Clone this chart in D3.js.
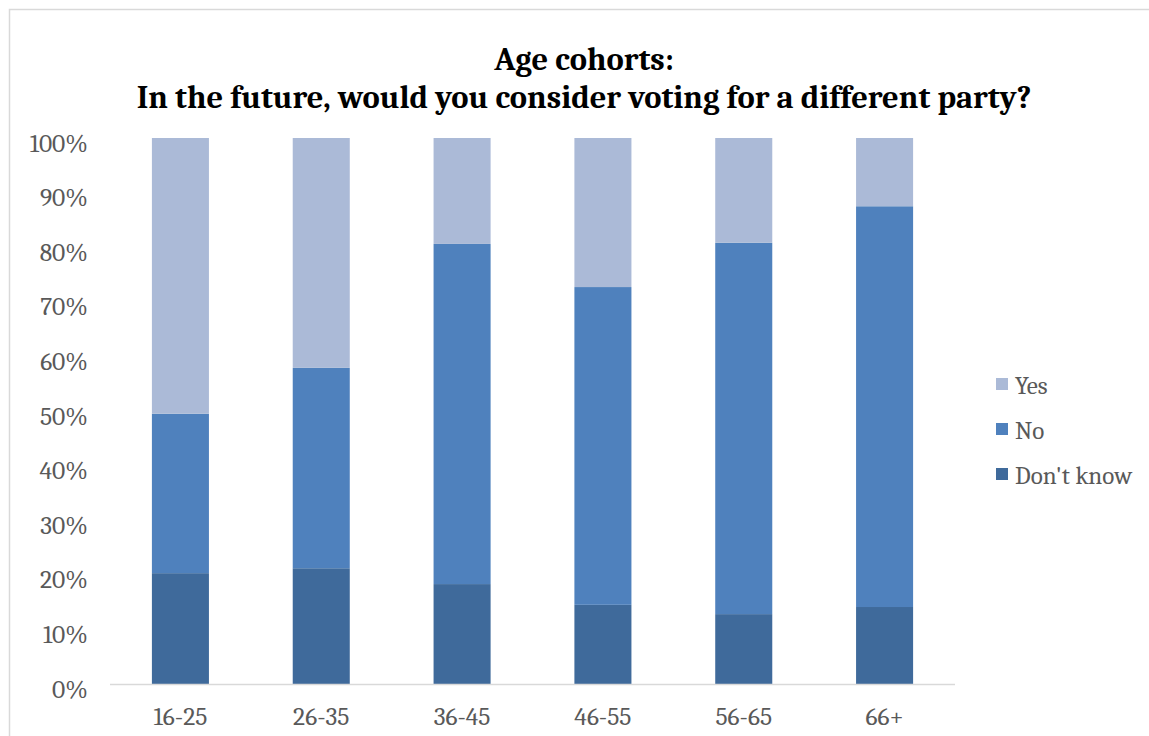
<!DOCTYPE html>
<html><head><meta charset="utf-8">
<script src="https://cdn.jsdelivr.net/npm/d3@7"></script>
<style>body{margin:0;background:#fff}svg{display:block}</style>
</head><body>
<svg id="c" width="1149" height="736"></svg>
<script>
const categories = ["16-25","26-35","36-45","46-55","56-65","66+"];
const dontKnow = [20.3, 21.2, 18.3, 14.5, 12.8, 14.1];
const no = [29.2, 36.7, 62.3, 58.2, 68.0, 73.4];
const yes = [50.5, 42.1, 19.4, 27.3, 19.2, 12.5];
const seriesNames = ["Don't know","No","Yes"];
const colors = {"Don't know":"#3F6A9B","No":"#4F81BD","Yes":"#ABBAD7"};
const yTicks = [0,10,20,30,40,50,60,70,80,90,100];
const titleLines = ["Age cohorts:","In the future, would you consider voting for a different party?"];

const svg = d3.select("#c");
const font = "Cambria, 'Liberation Serif', 'DejaVu Serif', serif";
svg.append("rect").attr("x",9.5).attr("y",9.5).attr("width",1200).attr("height",800)
  .attr("fill","none").attr("stroke","#d9d9d9").attr("stroke-width",1.5);

const L=110, R=955, T=138, B=684;
const x = d3.scaleBand().domain(categories).range([L,R]).paddingInner(0.595).paddingOuter(0.2975);
const y = d3.scaleLinear().domain([0,100]).range([B,T]);

const rows = categories.map((c,i)=>({cat:c,"Don't know":dontKnow[i],"No":no[i],"Yes":yes[i]}));
const stacked = d3.stack().keys(seriesNames)(rows);
svg.append("g").selectAll("g").data(stacked).join("g").attr("fill",d=>colors[d.key])
  .selectAll("rect").data(d=>d).join("rect")
  .attr("x",d=>x(d.data.cat)).attr("width",x.bandwidth())
  .attr("y",d=>y(d[1])).attr("height",d=>y(d[0])-y(d[1]));

svg.append("line").attr("x1",L).attr("x2",R).attr("y1",B+0.5).attr("y2",B+0.5)
  .attr("stroke","#d9d9d9").attr("stroke-width",1.5);

const yAxis = d3.axisLeft(y).tickValues(yTicks).tickFormat(d=>d+"%").tickSize(0).tickPadding(0);
const ga = svg.append("g").attr("transform","translate(88,5)").call(yAxis);
ga.select(".domain").remove();
ga.selectAll("text").attr("font-family",font).attr("font-size",25.5).attr("fill","#595959");

const xAxis = d3.axisBottom(x).tickSize(0).tickPadding(0);
const gx = svg.append("g").attr("transform","translate(0,707)").call(xAxis);
gx.select(".domain").remove();
gx.selectAll("text").attr("font-family",font).attr("font-size",25.5).attr("fill","#595959");

svg.selectAll(".title").data(titleLines).join("text").attr("class","title")
  .attr("x",584).attr("y",(d,i)=>70+i*38).attr("text-anchor","middle")
  .attr("font-family",font).attr("font-weight","bold").attr("font-size",32.5).attr("fill","#000")
  .text(d=>d);

const legendOrder = ["Yes","No","Don't know"];
const lg = svg.append("g").selectAll("g").data(legendOrder).join("g")
  .attr("transform",(d,i)=>`translate(996,${378+i*45})`);
lg.append("rect").attr("width",12).attr("height",12).attr("fill",d=>colors[d]);
lg.append("text").attr("x",19).attr("y",16).attr("font-family",font).attr("font-size",25)
  .attr("fill","#595959").text(d=>d);
</script>
</body></html>
